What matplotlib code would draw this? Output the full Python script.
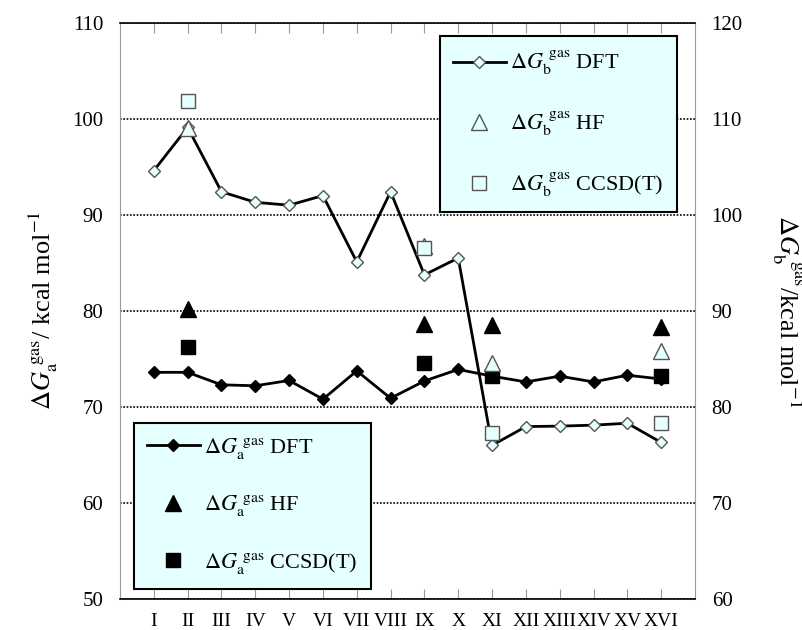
import numpy as np
import matplotlib.pyplot as plt

plt.rcParams['font.family'] = ['Liberation Serif', 'DejaVu Serif']
plt.rcParams['mathtext.fontset'] = 'stix'

# systems I..XVI
cats = ['I', 'II', 'III', 'IV', 'V', 'VI', 'VII', 'VIII', 'IX', 'X',
        'XI', 'XII', 'XIII', 'XIV', 'XV', 'XVI']

# dG_a (left axis)
dft_a = [73.6, 73.6, 72.3, 72.2, 72.75, 70.8, 73.75, 70.9, 72.7, 73.9,
         73.2, 72.6, 73.2, 72.6, 73.3, 72.9]
sel_idx = [2, 9, 11, 16]          # II, IX, XI, XVI
hf_a = [80.2, 78.6, 78.5, 78.3]
ccsd_a = [76.25, 74.6, 73.2, 73.2]

# dG_b (right axis)
dft_b = [104.6, 109.1, 102.4, 101.3, 101.0, 102.0, 95.1, 102.4, 93.75, 95.5,
         76.0, 77.95, 78.0, 78.1, 78.3, 76.3]
hf_b = [109.0, 96.7, 84.6, 85.8]
ccsd_b = [111.9, 96.5, 77.3, 78.3]

x = np.arange(1, len(cats) + 1)
cyan = '#E6FFFF'
edge = '#555555'

fig = plt.figure(figsize=(8.03, 6.3), dpi=100)
ax = fig.add_axes([120/803, 31/630, 575/803, 576.3/630])
ax2 = ax.twinx()

# left axis series
l1, = ax.plot(x, dft_a, color='black', lw=2, marker='D', ms=6.5,
              mfc='black', mec='black', zorder=3,
              label=r'$\Delta G_{\rm a}^{\ \rm gas}$ DFT')
l2, = ax.plot(sel_idx, hf_a, ls='none', marker='^', ms=11,
              mfc='black', mec='black', zorder=4,
              label=r'$\Delta G_{\rm a}^{\ \rm gas}$ HF')
l3, = ax.plot(sel_idx, ccsd_a, ls='none', marker='s', ms=9.5,
              mfc='black', mec='black', zorder=4,
              label=r'$\Delta G_{\rm a}^{\ \rm gas}$ CCSD(T)')

# right axis series
r1, = ax2.plot(x, dft_b, color='black', lw=2, marker='D', ms=6.5,
               mfc=cyan, mec=edge, mew=1, zorder=3,
               label=r'$\Delta G_{\rm b}^{\ \rm gas}$ DFT')
r2, = ax2.plot(sel_idx, hf_b, ls='none', marker='^', ms=11,
               mfc=cyan, mec=edge, mew=1, zorder=4,
               label=r'$\Delta G_{\rm b}^{\ \rm gas}$ HF')
r3, = ax2.plot(sel_idx, ccsd_b, ls='none', marker='s', ms=10,
               mfc=cyan, mec=edge, mew=1, zorder=5,
               label=r'$\Delta G_{\rm b}^{\ \rm gas}$ CCSD(T)')

ax.set_xlim(0, 17)
ax.set_ylim(50, 110)
ax2.set_ylim(60, 120)
ax.set_xticks(x)
ax.set_xticklabels(cats, fontsize=14)
ax.set_yticks(np.arange(50, 111, 10))
ax2.set_yticks(np.arange(60, 121, 10))
ax.tick_params(axis='x', direction='in', length=7, color='#999999',
               top=True, pad=10)
ax.tick_params(axis='y', length=0, labelsize=15, pad=12)
ax2.tick_params(axis='y', length=0, labelsize=15, pad=12)

ax.yaxis.grid(True, color='black', ls=(0, (1, 1)), lw=1.2)
ax.set_axisbelow(True)
for s in ['left', 'right']:
    ax.spines[s].set_color('#999999')
for s in ['top', 'bottom']:
    ax.spines[s].set_linestyle((0, (1, 1)))
    ax.spines[s].set_linewidth(1.2)
for s in ax2.spines.values():
    s.set_visible(False)

ax.set_ylabel(r'$\Delta G_{\rm a}^{\ \rm gas}$/ kcal mol$^{-1}$', fontsize=19,
              va='center')
ax.yaxis.set_label_coords(-0.134, 0.5)
ax2.set_ylabel(r'$\Delta G_{\rm b}^{\ \rm gas}$/kcal mol$^{-1}$', fontsize=19,
               rotation=-90, va='center', ha='center')
ax2.yaxis.set_label_coords(1.16, 0.5)

leg_kw = dict(fontsize=16, frameon=True, fancybox=False, facecolor=cyan,
              edgecolor='black', framealpha=1, handlelength=2.35,
              handletextpad=0.2, labelspacing=1.45, borderpad=0.6,
              borderaxespad=0)
leg_b = ax2.legend(handles=[r1, r2, r3], loc='upper left',
                   bbox_to_anchor=(0.5565, 0.9775), **leg_kw)
leg_b.get_frame().set_linewidth(1.5)
ax2.add_artist(leg_b)
leg_a = ax2.legend(handles=[l1, l2, l3], loc='lower left',
                   bbox_to_anchor=(0.0243, 0.0174), **leg_kw)
leg_a.get_frame().set_linewidth(1.5)

fig.savefig('out.png', dpi=100)
